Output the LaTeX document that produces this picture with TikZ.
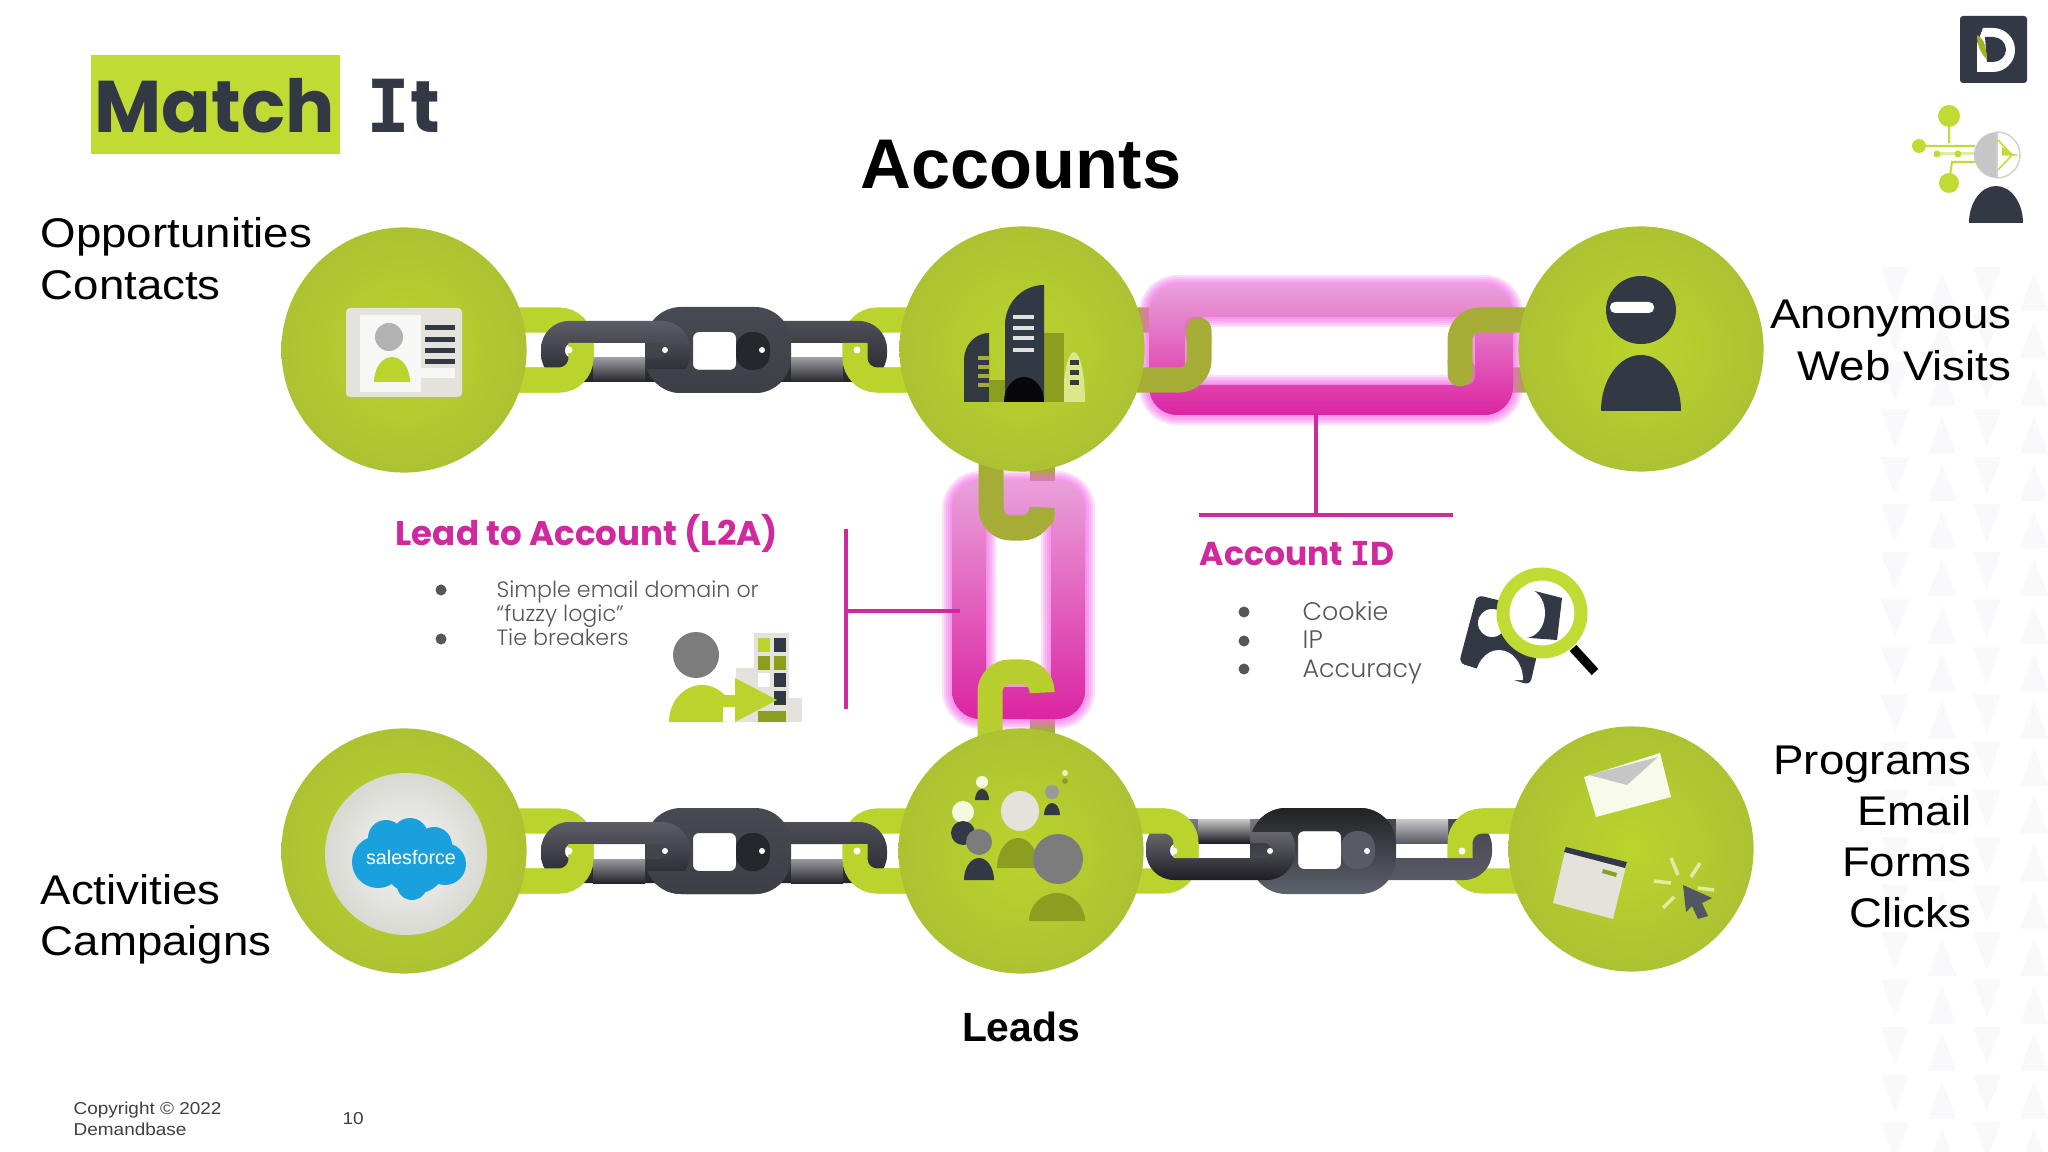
\documentclass[tikz,border=0pt]{standalone}
\usepackage{fontspec}
\setmainfont[FakeStretch=1.1]{Liberation Sans}
\newfontfamily\headfont{Poppins}
\newfontfamily\bodyfont{Poppins Light}
\newfontfamily\titlefont{Liberation Sans}
\newfontfamily\serifI{DejaVu Sans Mono}
\usepackage{tikz}
\usetikzlibrary{calc,positioning}
\definecolor{ballgreen}{HTML}{BBD42D}
\definecolor{ballrim}{HTML}{ADC232}
\definecolor{boxgreen}{HTML}{C0DB33}
\definecolor{slate}{HTML}{333845}
\definecolor{olive}{HTML}{8C9E20}
\definecolor{hookolive}{HTML}{A6AD36}
\definecolor{magline}{HTML}{CE2A9D}
\definecolor{glow}{HTML}{F465E6}
\definecolor{pinktop}{HTML}{E9A0DA}
\definecolor{pinkmid}{HTML}{EB78C8}
\definecolor{pinkbot}{HTML}{DB24A2}
\definecolor{bodygray}{HTML}{55565C}
\definecolor{panelgray}{HTML}{E3E3DC}
\definecolor{midgray}{HTML}{7B7C7B}
\definecolor{sfblue}{HTML}{1AA0DC}
\definecolor{triangle}{HTML}{F9F8FA}
\definecolor{chainAtop}{HTML}{5C5D66}
\definecolor{chainAbot}{HTML}{24252B}
\definecolor{chainCtop}{HTML}{484A52}
\definecolor{chainCbot}{HTML}{3D3F47}
\definecolor{chainRtop}{HTML}{4D4E56}
\definecolor{chainRbot}{HTML}{26272D}
\definecolor{chainHi}{HTML}{9A9AA0}
\tikzset{
  ball/.style={circle,minimum size=2.45cm,inner sep=0pt,inner color=ballgreen,outer color=ballrim},
  hook/.style={draw=ballgreen,line width=0.25cm,rounded corners=0.22cm},
  pinkhook/.style={draw=hookolive,line width=0.25cm,rounded corners=0.2cm,line cap=round},
  labeltext/.style={font=\fontsize{11.8}{14}\selectfont,text=black,inner sep=0pt},
  bodytext/.style={font=\bodyfont\fontsize{7.2}{8}\selectfont,text=bodygray,inner sep=0pt},
  pinkhead/.style={font=\headfont\bfseries\fontsize{9.7}{12}\selectfont,text=magline,inner sep=0pt},
  bullet/.style={circle,fill=bodygray,minimum size=0.11cm,inner sep=0pt},
  pinkrule/.style={draw=magline,line width=0.035cm},
  smalltext/.style={font=\fontsize{4.9}{6}\selectfont,text=black!75,inner sep=0pt,anchor=base west},
}
% one center link with its two side links, drawn around (0,0)
\newcommand{\centerlink}{%
  \shade[top color=chainCtop,bottom color=chainCbot,even odd rule,rounded corners=0.36cm]
    (-73,-43) rectangle (73,43) [rounded corners=0.06cm] (-25,-18) rectangle (18,20);}
\newcommand{\chainrun}{%
  \draw[hook] (-200,-30) -- (-137,-30) -- (-137,30) -- (-200,30);
  \draw[hook] (200,-30) -- (137,-30) -- (137,30) -- (200,30);
  \shade[top color=chainRtop,bottom color=chainRbot,even odd rule,rounded corners=0.28cm]
    (18,-29) rectangle (169,32) [rounded corners=0.07cm] (42,-7) rectangle (145,8);
  \centerlink
  \shade[top color=chainAtop,bottom color=chainAbot,even odd rule,rounded corners=0.28cm]
    (-177,-29) rectangle (-28,32) [rounded corners=0.07cm] (-153,-7) rectangle (-52,8);
  \shade[top color=chainHi,bottom color=chainAbot] (-125,8) rectangle (-73,32);
  \shade[top color=chainHi,bottom color=chainRbot] (73,8) rectangle (125,32);
  \begin{scope}
    \clip (-80,20) rectangle (80,50);
    \centerlink
  \end{scope}
  \fill[chainRbot,rounded corners=0.16cm] (18,-18) rectangle (52,20);
  \fill[white] (44,0) circle[radius=3];
  \fill[white] (-53,0) circle[radius=3];
  \draw[hook] (-137,-7) -- (-137,30) -- (-200,30);
  \draw[hook] (137,-7) -- (137,30) -- (200,30);
  \fill[white] (-149,0) circle[radius=3.5];
  \fill[white] (139,0) circle[radius=3.5];
}
% link with glow: outer box, then box of the hole
\newcommand{\pinklink}[8]{%
  \foreach \w in {0.2,0.16,0.12,0.08,0.04}{
    \draw[glow,line width=\w cm,opacity=0.2,rounded corners=0.28cm]
      (#1,#2) rectangle (#3,#4) [rounded corners=0.1cm] (#5,#6) rectangle (#7,#8);
  }
  \shade[top color=pinktop,middle color=pinkmid,bottom color=pinkbot,even odd rule,rounded corners=0.28cm]
    (#1,#2) rectangle (#3,#4) [rounded corners=0.08cm] (#5,#6) rectangle (#7,#8);}
\newcommand{\dome}[5]{\fill[#1] ({#2-#4},#3) arc[start angle=180,end angle=360,x radius=#4,y radius=#5] -- cycle;}
\begin{document}
\begin{tikzpicture}[x=0.01cm,y=-0.01cm]
\useasboundingbox (0,0) rectangle (2048,1152);
\fill[white] (0,0) rectangle (2048,1152);
% faint triangles on the right edge
\foreach \row in {0,...,18}{
  \pgfmathsetmacro{\yt}{267+47.5*\row}
  \foreach \xt in {1895,1987}{
    \fill[triangle] (\xt-14,\yt) -- (\xt+14,\yt) -- (\xt,\yt+38) -- cycle;}
  \foreach \xt in {1942,2034}{
    \fill[triangle] (\xt-14,\yt+44) -- (\xt+14,\yt+44) -- (\xt,\yt+6) -- cycle;}
}
% headline
\node[fill=boxgreen,minimum width=2.49cm,minimum height=0.99cm,anchor=north west,inner sep=0pt] (matchbox) at (90,54) {};
\node[anchor=base west,inner sep=0pt,font=\headfont\bfseries\fontsize{20.8}{24}\selectfont,text=slate] (matchword) at (94,133) {Match};
\node[anchor=base west,inner sep=0pt,font=\headfont\bfseries\fontsize{20.8}{24}\selectfont,text=slate] (itword) at (366,133) {{\serifI\bfseries I}t};
\node[anchor=base,inner sep=0pt,font=\titlefont\bfseries\fontsize{20}{24}\selectfont] (accounts) at (1021,189) {Accounts};
\node[anchor=base,inner sep=0pt,font=\titlefont\bfseries\fontsize{11.6}{14}\selectfont] (leads) at (1021,1041) {Leads};
% chains between the balls
\begin{scope}[shift={(718,350)}]
  \chainrun
\end{scope}
\begin{scope}[shift={(718,851)}]
  \chainrun
\end{scope}
\begin{scope}[shift={(1323,851)},yscale=-1]
  \definecolor{chainAtop}{HTML}{7A7A80}
  \definecolor{chainAbot}{HTML}{1E1F24}
  \definecolor{chainCtop}{HTML}{212226}
  \definecolor{chainCbot}{HTML}{5E636D}
  \definecolor{chainRtop}{HTML}{44474F}
  \definecolor{chainRbot}{HTML}{5A5A66}
  \definecolor{chainHi}{HTML}{C8C8C8}
  \chainrun
\end{scope}
% parts of the hooks that run behind the pink links
\draw[pinkhook] (1199,340) -- (1199,320) -- (1130,320);
\draw[pinkhook] (1460,360) -- (1460,380) -- (1535,380);
\draw[pinkhook] (1042,510) -- (1042,460);
\draw[pinkhook] (1042,690) -- (1042,740);
% pink links
\pinklink{1149}{285}{1513}{415}{1185}{317}{1475}{385}
\pinklink{952}{481}{1085}{719}{986}{516}{1051}{687}
% parts of the hooks in front of the pink links
\draw[pinkhook] (1199,330) -- (1199,380) -- (1130,380);
\draw[pinkhook] (1535,320) -- (1460,320) -- (1460,374);
\draw[pinkhook] (991,460) -- (991,528) -- (1042,528) -- (1042,516);
\draw[pinkhook,draw=ballgreen!85!hookolive] (1042,690) -- (1042,672) -- (990,672) -- (990,745);
% balls
\node[ball] (contactball) at (404,350) {};
\node[ball] (accountball) at (1022,349) {};
\node[ball] (visitball) at (1641,349) {};
\node[ball] (crmball) at (404,851) {};
\node[ball] (leadball) at (1021,851) {};
\node[ball] (programball) at (1631,849) {};
% rules from the pink links to their captions
\coordinate (idlink) at (1316,415);
\coordinate (idjoin) at (1316,515);
\coordinate (idleft) at (1199,515);
\coordinate (idright) at (1453,515);
\coordinate (ltop) at (846,529);
\coordinate (lbottom) at (846,709);
\coordinate (ljoin) at (846,611);
\coordinate (llink) at (960,611);
\draw[pinkrule] (idlink) -- (idjoin);
\draw[pinkrule] (idleft) -- (idright);
\draw[pinkrule] (ltop) -- (lbottom);
\draw[pinkrule] (ljoin) -- (llink);
% id card
\fill[panelgray,rounded corners=0.04cm] (346,308) rectangle (462,397);
\fill[white!70!panelgray] (360,315) rectangle (421,392);
\fill[white!70!panelgray] (421,368) rectangle (455,378);
\fill[gray!60] (389,337) circle[radius=14];
\dome{ballgreen}{392}{382}{18}{25}
\foreach \yc in {328,340,351,362}{\fill[slate] (425,\yc-2.5) rectangle (455,\yc+2.5);}
% buildings
\dome{ballgreen!55!white}{1074}{402}{11}{50}
\fill[olive] (1044,333) -- (1064,333) -- (1064,402) -- (1044,402) -- cycle;
\fill[slate] (964,402) -- (964,360) arc[start angle=180,end angle=270,x radius=25,y radius=27] -- (989,402) -- cycle;
\fill[olive] (989,380) rectangle (1005,402);
\fill[slate] (1005,402) -- (1005,325) arc[start angle=180,end angle=270,x radius=39,y radius=40] -- (1044,402) -- cycle;
\dome{black!85!slate}{1024}{402}{20}{25}
\foreach \yc in {317,328,338,350}{\fill[white!85!slate] (1013,\yc-2) rectangle (1034,\yc+2);}
\foreach \yc in {358,367,376,385}{\fill[hookolive] (978,\yc-2) rectangle (989,\yc+2);}
\foreach \yc in {363,373,383}{\fill[slate] (1070,\yc-2.5) rectangle (1079,\yc+2.5);}
% anonymous visitor
\fill[slate] (1641,310) ellipse[x radius=35,y radius=34];
\fill[white,rounded corners=0.05cm] (1610,302) rectangle (1654,313);
\dome{slate}{1641}{411}{40}{56}
% salesforce
\shade[inner color=white!92!gray,outer color=panelgray!90!gray] (406,854) circle[radius=81];
\foreach \cx/\cy/\cr in {386/838/18,410/836/18,434/845/18,378/862/26,415/862/32,445/864/21,412/885/15}{
  \fill[sfblue] (\cx,\cy) circle[radius=\cr];}
\node[font=\titlefont\fontsize{5.6}{6}\selectfont,text=white,inner sep=0pt] (sflogo) at (411,857) {salesforce};
% crowd of leads
\fill[white!85!ballgreen] (982,782) circle[radius=6];
\dome{slate}{982}{800}{7}{11}
\fill[white!70!ballgreen] (1065,773) circle[radius=3];
\fill[olive] (1065,781) circle[radius=3];
\fill[gray!80] (1052,792) circle[radius=7];
\dome{slate}{1052}{815}{8}{12}
\fill[white!85!ballgreen] (963,812) circle[radius=11];
\fill[panelgray] (1020,811) ellipse[x radius=19,y radius=20];
\fill[slate] (963,833) circle[radius=12];
\fill[midgray] (979,842) circle[radius=13];
\dome{slate}{979}{880}{15}{22}
\dome{olive}{1018}{868}{21}{30}
\fill[midgray] (1058,859) circle[radius=25];
\dome{olive}{1057}{921}{28}{28}
% envelope, form and pointer
\fill[white!90!ballgreen] (1584,777) -- (1660,753) -- (1671,797) -- (1596,817) -- cycle;
\fill[gray!45] (1589,775) -- (1658,757) -- (1627,785) -- cycle;
\fill[panelgray] (1566,847) -- (1627,862) -- (1613,919) -- (1553,903) -- cycle;
\fill[slate] (1566,847) -- (1627,862) -- (1625,868) -- (1564,852) -- cycle;
\fill[olive] (1603,869) -- (1617,873) -- (1616,877) -- (1602,873) -- cycle;
\foreach \ax/\ay/\bx/\by in {1671/858/1678/875,1700/863/1691/877,1654/881/1671/883,1663/908/1674/897,1714/890/1698/888}{
  \draw[white!55!ballgreen,line width=0.035cm] (\ax,\ay) -- (\bx,\by);}
\fill[slate!85!white] (1683,885) -- (1712,898) -- (1702,903) -- (1708,916) -- (1698,919) -- (1692,906) -- (1686,912) -- cycle;
% lead into account
\fill[panelgray] (754,633) rectangle (789,722);
\fill[panelgray] (736,668) rectangle (789,722);
\fill[panelgray] (789,698) rectangle (802,722);
\foreach \wx/\wy/\wc in {764/645/ballgreen,780/645/slate,764/663/olive,780/663/olive,764/680/white,780/680/slate,780/698/slate}{
  \fill[\wc] (\wx-6,\wy-7) rectangle (\wx+6,\wy+7);}
\fill[olive] (758,711) rectangle (786,722);
\fill[midgray] (696,655) ellipse[x radius=23,y radius=23];
\dome{ballgreen}{702}{722}{33}{37}
\fill[white] (723,707) rectangle (735,722);
\fill[ballgreen] (723,695) rectangle (736,707);
\fill[ballgreen] (735,678) -- (777,700) -- (735,722) -- cycle;
% magnifying glass on a card
\fill[slate,rounded corners=0.06cm] (1477,595) -- (1547,612) -- (1530,685) -- (1459,663) -- cycle;
\fill[white] (1492,623) circle[radius=14];
\dome{white}{1499}{680}{24}{30}
\fill[white] (1542,613) circle[radius=38];
\begin{scope}
  \clip (1542,613) circle[radius=38];
  \fill[slate] (1523,588) -- (1562,598) -- (1557,640) -- (1517,637) -- cycle;
  \fill[white] (1525,613) ellipse[x radius=20,y radius=25];
\end{scope}
\draw[boxgreen,line width=0.13cm] (1542,613) circle[radius=39];
\draw[black,line width=0.09cm] (1573,648) -- (1595,672);
% logo
\fill[slate,rounded corners=0.03cm] (1960,16) rectangle (2027,83);
\fill[white] (1977,72) -- (1977,44) -- (1983,28) -- (1993,28) arc[start angle=-90,end angle=90,radius=22] -- cycle;
\fill[slate] (1987,62) -- (1985,37) -- (1993,37) arc[start angle=-90,end angle=90,x radius=13,y radius=12.5] -- cycle;
\fill[olive!60!ballgreen] (1977,35) .. controls (1986,40) and (1986,50) .. (1987,60) .. controls (1980,52) and (1977,45) .. (1977,35) -- cycle;
% person with network head
\draw[boxgreen,line width=0.02cm] (1949,116) -- (1949,143) (1919,146) -- (1975,146) (1949,183) -- (1952,162) -- (1975,162);
\draw[boxgreen!50!white,line width=0.03cm] (1937,154) -- (1975,154);
\fill[boxgreen] (1949,116) circle[radius=11] (1919,146) circle[radius=7] (1949,183) circle[radius=10]
  (1937,154) circle[radius=3.5] (1958,154) circle[radius=3.5];
\fill[gray!45] (1997,132) arc[start angle=-90,end angle=-270,radius=23] -- cycle;
\draw[gray!35,fill=white,line width=0.015cm] (1997,132) arc[start angle=-90,end angle=90,radius=23] -- cycle;
\draw[boxgreen,line width=0.015cm] (1998,140) -- (2012,155) -- (1998,170) (2002,155) -- (2017,155);
\fill[boxgreen] (2002,155) -- (2015,155) -- (2002,147) -- cycle;
\dome{slate}{1996}{223}{27}{37}
% labels
\node[labeltext,anchor=base west] (oppslabel) at (40,248) {Opportunities};
\node[labeltext,anchor=base west] (contactlabel) at (40,300) {Contacts};
\node[labeltext,anchor=base west] (activitylabel) at (40,904) {Activities};
\node[labeltext,anchor=base west] (campaignlabel) at (40,955) {Campaigns};
\node[labeltext,anchor=base east] (anonlabel) at (2012,329) {Anonymous};
\node[labeltext,anchor=base east] (weblabel) at (2012,381) {Web Visits};
\node[labeltext,anchor=base east] (programlabel) at (1972,774) {Programs};
\node[labeltext,anchor=base east] (emaillabel) at (1972,825) {Email};
\node[labeltext,anchor=base east] (formlabel) at (1972,876) {Forms};
\node[labeltext,anchor=base east] (clicklabel) at (1972,927) {Clicks};
% captions
\node[pinkhead,anchor=base west] (ltahead) at (395,545) {Lead to Account (L2A)};
\node[bullet] (ltaone) at (441,590) {};
\node[bullet] (ltatwo) at (441,639) {};
\node[bodytext,font=\bodyfont\fontsize{6.3}{8}\selectfont,anchor=base west] (ltatext) at (496,597) {Simple email domain or};
\node[bodytext,font=\bodyfont\fontsize{6.3}{8}\selectfont,anchor=base west] (ltatexttwo) at (496,622) {“fuzzy logic”};
\node[bodytext,font=\bodyfont\fontsize{6.3}{8}\selectfont,anchor=base west] (ltatextthree) at (496,646) {Tie breakers};
\node[pinkhead,font=\headfont\bfseries\fontsize{9.4}{12}\selectfont,anchor=base west] (idhead) at (1199,565) {Account {\serifI\bfseries I}D};
\node[bullet] (idone) at (1244,612) {};
\node[bullet] (idtwo) at (1244,641) {};
\node[bullet] (idthree) at (1244,669) {};
\node[bodytext,anchor=base west] (cookietext) at (1302,620) {Cookie};
\node[bodytext,anchor=base west] (iptext) at (1302,648) {IP};
\node[bodytext,anchor=base west] (accuracytext) at (1302,677) {Accuracy};
% footer
\node[smalltext] (copyline) at (73,1114) {Copyright © 2022};
\node[smalltext] (companyline) at (73,1135) {Demandbase};
\node[smalltext] (pagenumber) at (342,1124) {10};
\end{tikzpicture}
\end{document}
